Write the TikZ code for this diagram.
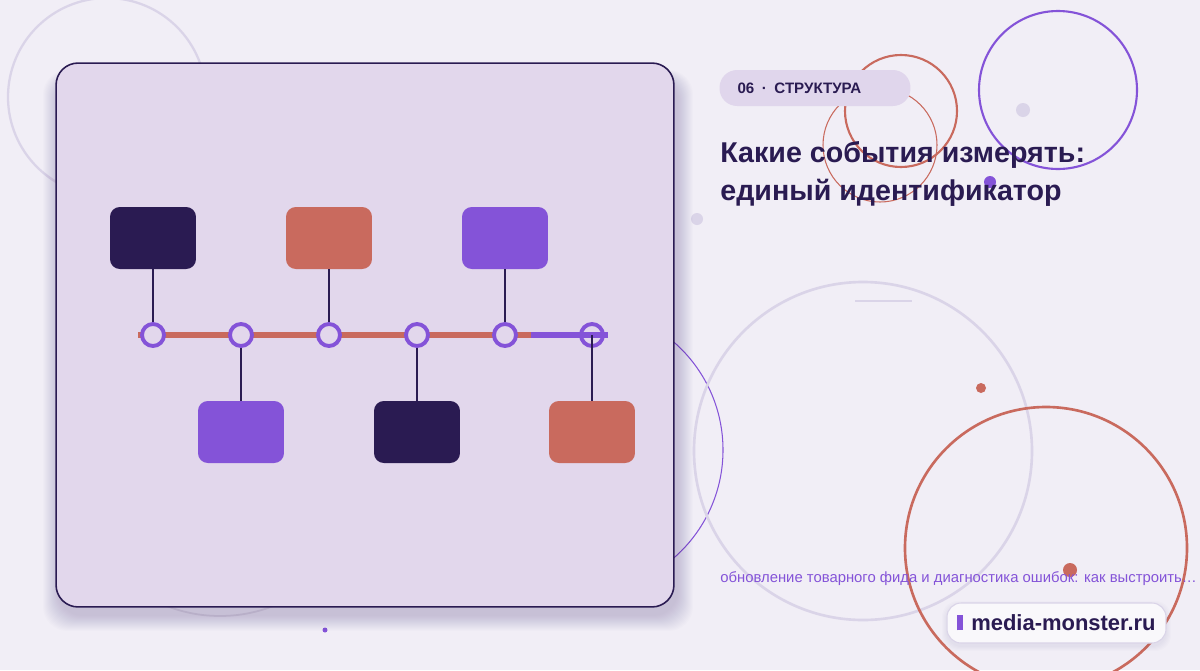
\documentclass[tikz,border=0pt]{standalone}
\usepackage{fontspec}
\setmainfont{Liberation Sans}
\usetikzlibrary{positioning}
\definecolor{bgc}{HTML}{F1EEF6}
\definecolor{panelc}{HTML}{E2D7EC}
\definecolor{inkc}{HTML}{2A1B52}
\definecolor{redc}{HTML}{C96A5E}
\definecolor{purc}{HTML}{8453D8}
\definecolor{palec}{HTML}{DAD4E8}
\definecolor{pillc}{HTML}{E0D6EC}
\begin{document}
\begin{tikzpicture}[x=0.02cm,y=-0.02cm,
    card/.style={rounded corners=5.6pt,minimum width=1.72cm,minimum height=1.24cm,inner sep=0pt},
    ring/.style={circle,draw=purc,line width=2.2pt,fill=panelc,minimum size=0.44cm,inner sep=0pt},
    stem/.style={draw=inkc,line width=1.4pt},
    pill/.style={fill=pillc,rounded corners=10pt,minimum height=0.72cm,text width=3.1cm,inner xsep=0.36cm,align=left},
    badge/.style={fill=white!60!bgc,draw=palec,line width=0.6pt,rounded corners=8pt,minimum width=4.38cm,minimum height=0.8cm}]
  \useasboundingbox (0,0) rectangle (1200,670);
  \fill[bgc] (0,0) rectangle (1200,670);
  \draw[palec,line width=1.3pt] (107,97) circle (99);
  \draw[palec,line width=1pt] (220,470) circle (146);
  \draw[purc,line width=0.6pt] (580,450) circle (143);
  \draw[palec,line width=1.5pt] (863,451) circle (169);
  \draw[palec,line width=1pt] (855,301) -- (912,301);
  \fill[redc] (981,388) circle (5);
  \draw[redc,line width=1.5pt] (1046,548) circle (141);
  \fill[redc] (1070,570) circle (7);
  \draw[purc,line width=1.2pt] (1058,90) circle (79);
  \fill[palec] (1023,110) circle (7);
  \draw[redc,line width=1.2pt] (901,111) circle (56);
  \draw[redc,line width=0.6pt] (880,145) circle (57);
  \fill[purc] (990,182) circle (6);
  \fill[palec] (697,219) circle (6);
  \fill[purc] (325,630) circle (2.5);
  \foreach \i in {1,...,16}
    \fill[inkc,opacity=0.012,rounded corners=14pt] (59-\i,78-\i*0.5) rectangle (677+\i,615+\i);
  \node[draw=inkc,line width=0.9pt,fill=panelc,rounded corners=12.5pt,minimum width=12.36cm,minimum height=10.88cm] (panel) at (365,335) {};
  \node[card,fill=inkc] (b1) at (153,238) {};
  \node[card,fill=purc] (b2) at (241,432) {};
  \node[card,fill=redc] (b3) at (329,238) {};
  \node[card,fill=inkc] (b4) at (417,432) {};
  \node[card,fill=purc] (b5) at (505,238) {};
  \node[card,fill=redc] (b6) at (592,432) {};
  \coordinate (t0) at (138,335);
  \coordinate (t1) at (531,335);
  \coordinate (t2) at (608,335);
  \draw[redc,line width=3.4pt] (t0) -- (t1);
  \draw
    (153,335) node[ring] (c1){}
    (241,335) node[ring] (c2){}
    (329,335) node[ring] (c3){}
    (417,335) node[ring] (c4){}
    (505,335) node[ring] (c5){}
    (592,335) node[ring] (c6){};
  \begin{scope}[stem]
    \draw (b1) to (c1);
    \draw (b2) to (c2);
    \draw (b3) to (c3);
    \draw (b4) to (c4);
    \draw (b5) to (c5);
  \end{scope}
  \draw[purc,line width=3.4pt] (t1) -- (t2);
  \draw[stem] (b6) to (c6.center);
  \node[pill,font=\fontsize{8.6pt}{10pt}\selectfont\bfseries,text=inkc] (tag) at (815,88) {06\enspace·\enspace СТРУКТУРА};
  \node[anchor=base west,align=left,inner sep=0pt,text=inkc,font=\fontsize{16.3pt}{21.5pt}\selectfont\bfseries] (title) at (720,200)
    {Какие события измерять:\\единый идентификатор};
  \node[anchor=base west,inner sep=0pt,text=purc,font=\fontsize{8.45pt}{10pt}\selectfont] (link) at (720,582)
    {обновление товарного фида и диагностика ошибок: как выстроить…};
  \foreach \i in {1,...,5}
    \fill[inkc,opacity=0.012,rounded corners=9pt] (947-\i,606-\i) rectangle (1166+\i,646+\i);
  \node[badge,text=inkc,font=\fontsize{12.5pt}{14pt}\selectfont\bfseries] (site) at (1056.5,623)
    {\textcolor{purc}{\rule[0.3pt]{3.4pt}{8.6pt}}\hspace{4.5pt}media-monster.ru};
\end{tikzpicture}
\end{document}
